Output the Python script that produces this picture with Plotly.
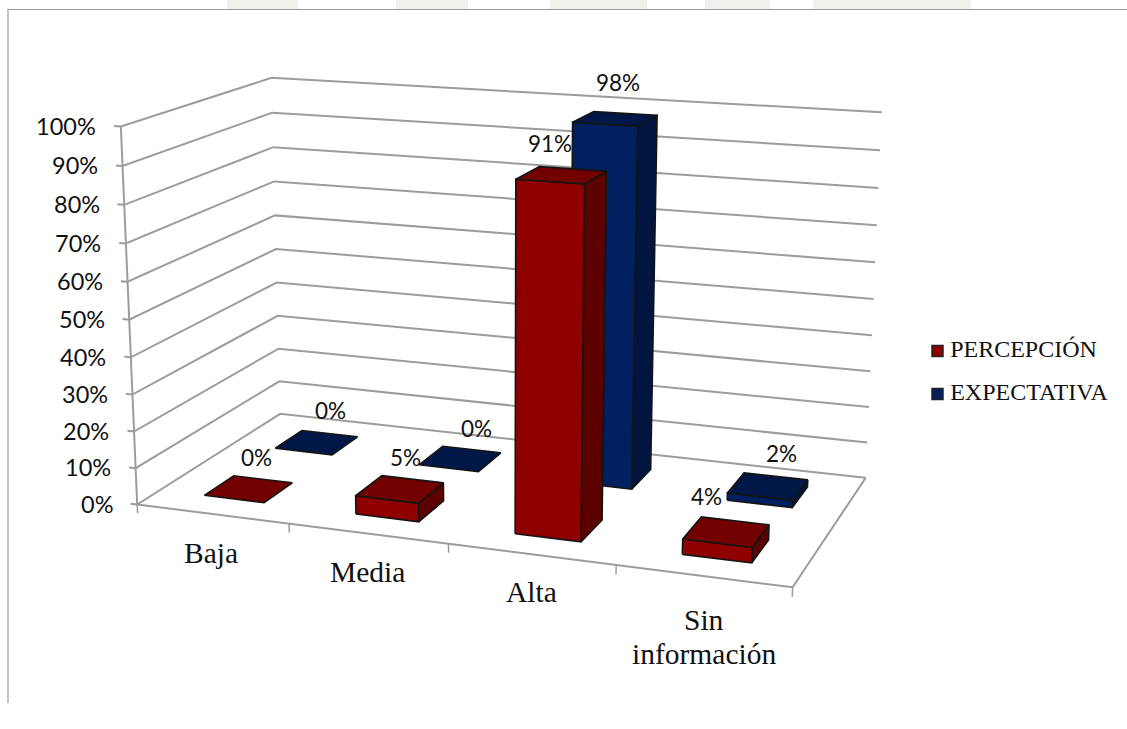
import numpy as np
import plotly.graph_objects as go

# ---- data ----
categories = ["Baja", "Media", "Alta", "Sin<br>información"]
percepcion = [0, 5, 91, 4]
expectativa = [0, 0, 98, 2]
value_ticks = [0, 10, 20, 30, 40, 50, 60, 70, 80, 90, 100]
series_names = ["PERCEPCIÓN", "EXPECTATIVA"]

# ---- style ----
GRID = "#9c9c9c"
EDGE = "#141414"
RED = dict(front="#8f0000", top="#720000", side="#5c0000", key="#8f0000")
BLUE = dict(front="#002060", top="#001848", side="#001540", key="#002060")
SERIF = "Liberation Serif"
SANS = "Lato"

# ---- 3D view of the chart box onto the page ----
EYE = np.array([1.80734, -5.02026, 1.35197])
LOOK = np.array([0.1063, -0.33317, 0.0])
UP = np.array([-0.00023, -0.00065, 1.0])
BOX = np.array([1.6, 0.79894, 0.91437])
FOCAL, CX, CY = 2305.74147, 502.31104, 347.43863
_f = (LOOK - EYE) / np.linalg.norm(LOOK - EYE)
_r = np.cross(_f, UP); _r /= np.linalg.norm(_r)
_u = np.cross(_r, _f)

def view(x, y, z):
    d = (np.array([x, y, z], float) - 0.5) * BOX - EYE
    w = d @ _f
    return CX + FOCAL * (d @ _r) / w, CY - FOCAL * (d @ _u) / w

fig = go.Figure()

def line(points, color=GRID, width=2):
    pts = [view(*p) for p in points]
    fig.add_trace(go.Scatter(x=[p[0] for p in pts], y=[p[1] for p in pts], mode="lines",
                             line=dict(color=color, width=width), hoverinfo="skip", showlegend=False))

def face(points, color):
    pts = [view(*p) for p in points]
    fig.add_trace(go.Scatter(x=[p[0] for p in pts], y=[p[1] for p in pts], mode="lines", fill="toself",
                             fillcolor=color, line=dict(color=EDGE, width=1.6), hoverinfo="skip",
                             showlegend=False))

# walls and floor
for v in value_ticks:
    z = v / 100
    line([(-0.011, 0, z), (0, 0, z), (0, 1, z), (1, 1, z)])
line([(0, 0, 0), (0, 0, 1)])
line([(0, 0, 0), (1, 0, 0), (1, 1, 0)])
n = len(categories)
for i in range(n + 1):
    line([(i / n, 0, 0), (i / n, 0, -0.024)], width=1.5)

# bars
BAR_W = 0.1
def bar(i, y0, y1, value, col):
    c = (i + 0.5) / n
    x0, x1 = c - BAR_W / 2, c + BAR_W / 2
    z = value / 100
    if z > 0:
        face([(x1, y0, 0), (x1, y1, 0), (x1, y1, z), (x1, y0, z), (x1, y0, 0)], col["side"])
        face([(x0, y0, 0), (x1, y0, 0), (x1, y0, z), (x0, y0, z), (x0, y0, 0)], col["front"])
    face([(x0, y0, z), (x1, y0, z), (x1, y1, z), (x0, y1, z), (x0, y0, z)], col["top"])

DEPTH_RED = (0.145, 0.345)
DEPTH_BLUE = (0.645, 0.85)
for i, v in enumerate(expectativa):
    bar(i, *DEPTH_BLUE, v, BLUE)
for i, v in enumerate(percepcion):
    bar(i, *DEPTH_RED, v, RED)

# legend keys
KEY_X, KEY_Y = 937.5, [351, 394]
for name, col, ky in zip(series_names, (RED, BLUE), KEY_Y):
    fig.add_trace(go.Scatter(x=[KEY_X], y=[ky], mode="markers+text", name=name, showlegend=False,
                             text=["\u2009" + name], textposition="middle right",
                             textfont=dict(family=SERIF, size=24, color="#111111"),
                             marker=dict(symbol="square", size=11, color=col["key"],
                                         line=dict(color="#222222", width=1.5))))

ann = []
# value axis labels
for v in value_ticks:
    px, py = view(-0.011, 0, v / 100)
    ann.append(dict(x=px, y=py, text=f"{v}%", xanchor="right", yanchor="middle", xshift=-16, yshift=0,
                    font=dict(family=SANS, size=23.5, color="#111111"), showarrow=False))
# category labels (one annotation per text line)
cat_pos = [(9, 32), (9, 31), (8, 30), (7, 53)]
LINE_STEP = 34
for i, c in enumerate(categories):
    px, py = view((i + 0.5) / n, -0.065, 0)
    for k, part in enumerate(c.split("<br>")):
        ann.append(dict(x=px, y=py, text=part, xanchor="center", yanchor="middle",
                        xshift=cat_pos[i][0], yshift=-(cat_pos[i][1] + k * LINE_STEP - (LINE_STEP / 2 if "<br>" in c else 0)),
                        font=dict(family=SERIF, size=29.5, color="#111111"), showarrow=False))
# data labels
red_off = [(8, 32), (6, 32), (-12, 32), (-20, 35)]
blue_off = [(14, 32), (16, 30), (3, 36), (14, 33)]
for vals, yy, offs in ((percepcion, DEPTH_RED, red_off), (expectativa, DEPTH_BLUE, blue_off)):
    for i, v in enumerate(vals):
        px, py = view((i + 0.5) / n, sum(yy) / 2, v / 100)
        ann.append(dict(x=px, y=py, text=f"{v}%", xanchor="center", yanchor="middle",
                        xshift=offs[i][0], yshift=offs[i][1],
                        font=dict(family=SANS, size=22.5, color="#111111"), showarrow=False))

shapes = [
    dict(type="line", x0=8, x1=1127, y0=9.5, y1=9.5, line=dict(color="#9a9a9a", width=1.2), layer="below"),
    dict(type="line", x0=8, x1=8, y0=9, y1=703, line=dict(color="#9a9a9a", width=1.2), layer="below"),
]
for a, b in [(227, 298), (396, 468), (550, 647), (705, 770), (813, 971)]:
    shapes.append(dict(type="rect", x0=a, x1=b, y0=0, y1=9, line_width=0, fillcolor="#eef1ec", layer="below"))

fig.update_layout(
    width=1127, height=729, margin=dict(l=0, r=0, t=0, b=0),
    paper_bgcolor="white", plot_bgcolor="white", showlegend=False,
    xaxis=dict(range=[0, 1127], visible=False, fixedrange=True),
    yaxis=dict(range=[729, 0], visible=False, fixedrange=True),
    annotations=ann, shapes=shapes,
)
fig.write_html("out.html", config=dict(displayModeBar=False),
               post_script="document.body.style.margin='0';document.body.style.overflow='hidden';")
